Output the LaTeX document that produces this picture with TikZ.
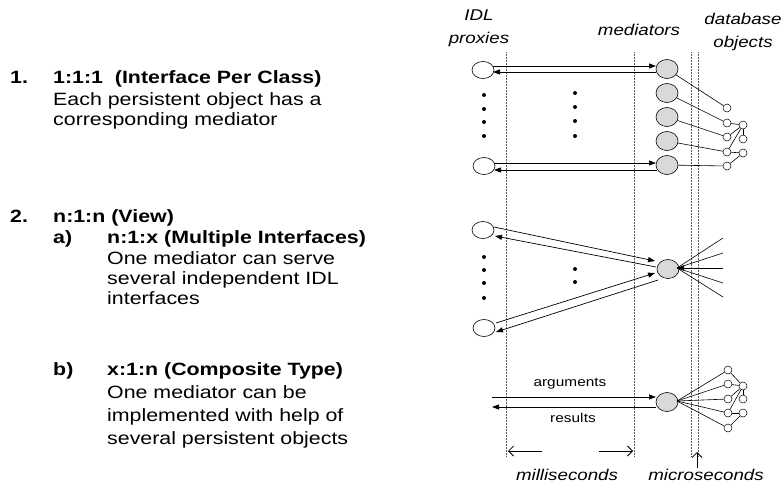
\documentclass[tikz,border=0pt]{standalone}
\usepackage{fontspec}
\setmainfont{Liberation Sans}[FakeStretch=1.2]
\usetikzlibrary{arrows.meta,calc,shapes.geometric}
\definecolor{medfill}{RGB}{217,217,217}
\definecolor{vgray}{RGB}{90,90,90}
\begin{document}
\begin{tikzpicture}[x=1pt,y=-1pt,
  txt/.style={anchor=base west,inner sep=0pt,font=\fontsize{17.8}{21}\selectfont},
  bld/.style={anchor=base west,inner sep=0pt,font=\fontsize{17.8}{21}\selectfont\bfseries},
  lab/.style={inner sep=0pt,align=center,font=\fontsize{15.6}{23}\selectfont\itshape},
  sml/.style={inner sep=0pt,font=\fontsize{12.8}{15}\selectfont},
  proxy/.style={draw,ellipse,minimum width=22pt,minimum height=17pt,inner sep=0pt,line width=0.6pt,fill=white},
  med/.style={draw,ellipse,minimum width=22pt,minimum height=19pt,inner sep=0pt,line width=0.6pt,fill=medfill},
  dbo/.style={draw,circle,minimum size=8pt,inner sep=0pt,line width=0.5pt,fill=white},
  dotn/.style={circle,fill=black,minimum size=4pt,inner sep=0pt},
  arr/.style={line width=0.7pt,-{Triangle[length=7pt,width=5pt]}},
  barb/.style={line width=0.6pt,-{Straight Barb[length=5pt,width=10pt,line width=0.8pt]}},
  ln/.style={line width=0.6pt},
  vline/.style={line width=0.5pt,vgray,densely dotted}]
\useasboundingbox (0,0) rectangle (784,493);

% left text
\node[bld] (n1) at (10,83) {1.};
\node[bld] (h1) at (53,83) {1:1:1\ \ (Interface Per Class)};
\node[txt] (l1a) at (53,105) {Each persistent object has a};
\node[txt] (l1b) at (53,125) {corresponding mediator};
\node[bld] (n2) at (10,222) {2.};
\node[bld] (h2) at (53,222) {n:1:n (View)};
\node[bld] (na) at (53,243) {a)};
\node[bld] (ha) at (107,243) {n:1:x (Multiple Interfaces)};
\node[txt] (la1) at (107,264) {One mediator can serve};
\node[txt] (la2) at (107,284) {several independent IDL};
\node[txt] (la3) at (107,304) {interfaces};
\node[bld] (nb) at (53,375) {b)};
\node[bld] (hb) at (107,375) {x:1:n (Composite Type)};
\node[txt] (lb1) at (107,398) {One mediator can be};
\node[txt] (lb2) at (107,421) {implemented with help of};
\node[txt] (lb3) at (107,444) {several persistent objects};

% column labels
\node[lab] (cidl) at (479,28) {IDL\\proxies};
\node[lab] (cmed) at (639,30) {mediators};
\node[lab] (cdb) at (743,32) {database\\objects};

% vertical dotted lines
\draw[vline] (506,52) -- (506,456);
\draw[vline] (634,52) -- (634,456);
\draw[vline] (691,52) -- (691,456);
\draw[vline] (698,52) -- (698,456);

% ---------- section 1 ----------
\node[proxy] (p1) at (483,70) {};
\node[proxy] (p2) at (484,166) {};
\foreach \y in {95,109,122,136} \node[dotn] at (484,\y) {};
\foreach \y in {93,107,121,136} \node[dotn] at (575,\y) {};
\node[med] (m1) at (667,69) {};
\node[med] (m2) at (667,93) {};
\node[med] (m3) at (667,117) {};
\node[med] (m4) at (667,141) {};
\node[med] (m5) at (667,165) {};
\draw[arr] ($(p1.center)+(10,-4)$) -- ($(m1.center)+(-11,-3)$);
\draw[arr] ($(m1.center)+(-11,3)$) -- ($(p1.center)+(10,2)$);
\draw[arr] ($(p2.center)+(10,-3)$) -- ($(m5.center)+(-11,-2)$);
\draw[arr] ($(m5.center)+(-10,5)$) -- ($(p2.center)+(10,4)$);
\node[dbo] (d1) at (727,108) {};
\node[dbo] (d2) at (727,123) {};
\node[dbo] (d3) at (727,137) {};
\node[dbo] (d4) at (727,152) {};
\node[dbo] (d5) at (727,166) {};
\node[dbo] (r1) at (743,125) {};
\node[dbo] (r2) at (743,139) {};
\node[dbo] (r3) at (743,153) {};
\draw[ln] (m1) -- (d1);
\draw[ln] (m2) -- (d2);
\draw[ln] (m3) -- (d3);
\draw[ln] (m4) -- (d4);
\draw[ln] (m5) -- (d5);
\draw[ln] (d2) -- (r1);
\draw[ln] (d3) -- (r1);
\draw[ln] (d4) -- (r1);
\draw[ln] (r1) -- (r2);
\draw[ln] (d4) -- (r3);
\draw[ln] (d5) -- (r3);

% ---------- section 2 ----------
\node[proxy] (p3) at (483,230) {};
\node[proxy] (p4) at (484,328) {};
\foreach \y in {257,270,283,298} \node[dotn] at (484,\y) {};
\foreach \y in {269,282} \node[dotn] at (575,\y) {};
\node[med] (m6) at (668,269) {};
\draw[arr] ($(p3.center)+(11,-3)$) -- ($(m6.center)+(-13,-8)$);
\draw[arr] ($(m6.center)+(-12,-2)$) -- ($(p3.center)+(12,6)$);
\draw[arr] ($(p4.center)+(12,-5)$) -- ($(m6.center)+(-13,4)$);
\draw[arr] ($(m6.center)+(-10,11)$) -- ($(p4.center)+(12,4)$);
\coordinate (fc) at ($(m6.center)+(9,-1)$);
\coordinate (f1) at (723,238);
\coordinate (f2) at (723,253);
\coordinate (f3) at (723,268);
\coordinate (f4) at (723,283);
\coordinate (f5) at (723,297);
\draw[ln] (fc) -- (f1);
\draw[ln] (fc) -- (f2);
\draw[arr,line width=0.6pt] (f3) -- (fc);
\draw[ln] (fc) -- (f4);
\draw[ln] (fc) -- (f5);

% ---------- section 3 ----------
\node[med] (m7) at (667,402) {};
\coordinate (ain) at (492,397);
\coordinate (rout) at (492,407);
\draw[arr] (ain) -- ($(m7.center)+(-11,-5)$);
\draw[arr] ($(m7.center)+(-11,5)$) -- (rout);
\node[sml] (targ) at (570,384) {argum\hspace{0.3pt}ents};
\node[sml] (tres) at (573,418) {resul\hspace{0.3pt}ts};
\coordinate (gc) at ($(m7.center)+(10,-1)$);
\node[dbo] (e1) at (728,370) {};
\node[dbo] (e2) at (728,384) {};
\node[dbo] (e3) at (728,399) {};
\node[dbo] (e4) at (728,413) {};
\node[dbo] (e5) at (728,428) {};
\node[dbo] (s1) at (743,386) {};
\node[dbo] (s2) at (743,399) {};
\node[dbo] (s3) at (743,413) {};
\foreach \e in {e1,e2,e3,e4,e5} \draw[ln] (gc) -- (\e);
\draw[ln] (e1) -- (s1);
\draw[ln] (e2) -- (s1);
\draw[ln] (e3) -- (s1);
\draw[ln] (e4) -- (s1);
\draw[ln] (s1) -- (s2);
\draw[ln] (e4) -- (s3);
\draw[ln] (e5) -- (s3);

% ---------- timing ----------
\coordinate (ms1a) at (542,451);
\coordinate (ms1b) at (508,451);
\coordinate (ms2a) at (599,451);
\coordinate (ms2b) at (633,451);
\draw[barb] (ms1a) -- (ms1b);
\draw[barb] (ms2a) -- (ms2b);
\coordinate (us1) at (697,468);
\coordinate (us2) at (697,452);
\draw[barb] (us1) -- (us2);
\node[lab] (tms) at (567,475) {milliseconds};
\node[lab] (tus) at (706,475) {microseconds};
\end{tikzpicture}
\end{document}
